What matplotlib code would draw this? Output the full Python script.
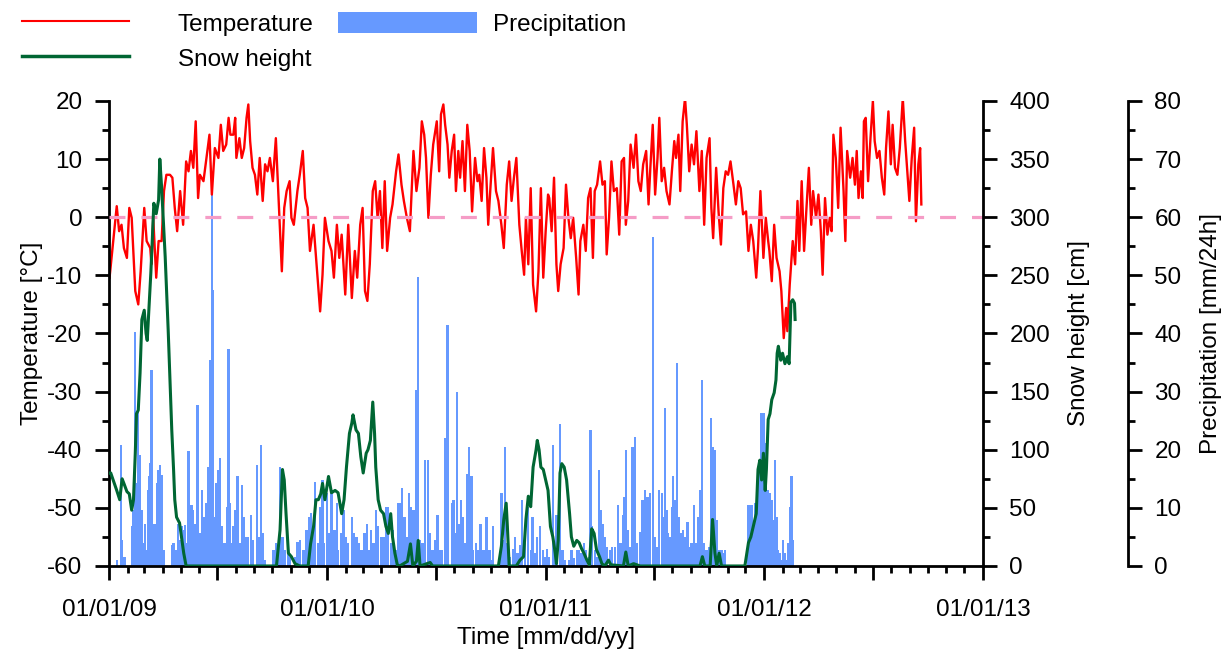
import numpy as np
import matplotlib
matplotlib.use("Agg")
import matplotlib.pyplot as plt
from matplotlib.ticker import MultipleLocator, FuncFormatter
from matplotlib.lines import Line2D
from matplotlib.patches import Patch, Rectangle
from matplotlib.legend_handler import HandlerPatch
import matplotlib.dates as mdates

plt.rcParams['font.family'] = ['Liberation Sans', 'DejaVu Sans']
plt.rcParams['font.size'] = 17.5
plt.rcParams['axes.unicode_minus'] = False

start = np.datetime64('2009-01-01')

# (days since 01/01/09, value)
temperature = [
    (1, -10.4), (10, -1.3), (13, 1.9), (17, -2.4), (21, -1.3), (25, -5.3), (30, -7.0), (34, 1.6),
    (38, -0.1), (44, -12.7), (49, -15.0), (53, -9.3), (59, 1.6), (63, -4.1), (69, -5.3), (71, -8.1),
    (74, -0.1), (79, -10.4), (83, -4.1), (88, -4.1), (92, 4.5), (96, 7.3), (102, 7.3), (106, 6.8),
    (110, 1.6), (114, -2.4), (119, 4.5), (124, -1.3), (129, 9.6), (133, 7.9), (137, 11.4), (141, 8.5),
    (145, 16.5), (149, 3.3), (152, 7.3), (158, 6.2), (163, 10.2), (168, 14.2), (172, 3.9), (177, 11.9),
    (183, 10.2), (187, 15.9), (191, 11.4), (196, 12.5), (200, 17.1), (203, 14.2), (208, 14.2), (211, 17.1),
    (213, 10.2), (218, 13.6), (222, 10.2), (226, 11.9), (230, 17.1), (233, 19.4), (236, 13.1), (240, 8.5),
    (244, 7.3), (248, 3.9), (252, 10.2), (257, 2.8), (261, 9.1), (265, 7.9), (269, 10.2), (274, 6.2),
    (279, 13.6), (283, 4.5), (289, -9.3), (293, 1.6), (297, 4.5), (302, 6.2), (305, -0.1), (309, -1.3),
    (315, 4.5), (319, 7.3), (324, 11.4), (328, 3.3), (332, 1.6), (336, -5.8), (342, -1.3), (347, -8.1),
    (353, -16.2), (357, -9.9), (361, -0.1), (367, -4.1),
    (372, -5.8), (376, -10.4), (381, -1.3), (385, -7.0), (389, -3.0), (395, -13.3), (400, -1.3), (406, -13.9),
    (411, -5.8), (415, -10.4), (420, -1.3), (424, 1.6), (428, -12.7), (432, -14.4), (436, -8.1), (441, 4.5),
    (445, 6.2), (449, -0.1), (453, 4.5), (457, -5.3), (461, 6.2), (465, -5.8), (470, -0.1), (474, 2.2),
    (480, 7.9), (484, 10.8), (489, 5.6), (493, 2.8), (498, -0.1), (503, -2.4), (509, 11.4), (514, 4.5),
    (519, 8.5), (523, 16.5), (527, 14.2), (530, 10.2), (534, -0.1), (538, 7.3), (542, 12.5), (548, 16.5),
    (552, 7.9), (555, 17.7), (559, 19.4), (562, 15.9), (566, 12.5), (569, 6.8), (573, 11.4), (577, 14.2),
    (580, 4.5), (584, 11.4), (587, 6.8), (591, 13.1), (595, 4.5), (599, 15.9), (603, 11.4), (607, 1.0),
    (612, 10.2), (616, 6.2), (619, 7.3), (623, 2.8), (627, 11.9), (631, 6.8), (634, -1.3), (638, 5.6),
    (642, 11.9), (647, 4.5), (651, 2.8), (656, -1.3), (660, -5.3), (665, 5.6), (669, 9.6), (673, 2.8),
    (677, 6.8), (681, 10.2), (686, -1.3), (690, -5.8), (694, -9.9), (697, -0.1), (701, -8.1), (705, 5.0),
    (709, -11.6), (714, -16.2), (718, -9.3), (722, 5.0), (726, -10.4), (730, -2.4), (734, 3.9),
    (736, 3.3), (740, -2.4), (744, 6.8), (748, -8.1), (751, -12.7), (755, -8.1), (760, -5.3), (764, 5.6),
    (768, -0.1), (772, -3.6), (776, -0.1), (781, -7.0), (785, -13.3), (788, -4.1), (793, -1.3), (797, -5.8),
    (801, 3.3), (805, 5.0), (809, -7.0), (812, 4.5), (816, 5.6), (821, 9.6), (825, 5.6), (829, 6.2),
    (832, -6.4), (836, -0.1), (840, 9.6), (844, 4.5), (849, 5.0), (853, -3.0), (857, 9.6), (861, 10.2),
    (864, -1.3), (868, 2.8), (872, 12.5), (877, 8.5), (881, 14.2), (885, 6.2), (889, 4.5), (893, 9.1),
    (898, 11.4), (902, 2.2), (905, 8.5), (909, 15.9), (913, 3.9), (917, 10.2), (920, 17.1), (924, 6.2),
    (928, 8.5), (932, 4.5), (937, 2.2), (941, 7.9), (945, 13.1), (948, 10.2), (952, 14.2), (955, 4.5),
    (959, 16.5), (963, 20.5), (966, 15.9), (970, 7.9), (974, 12.5), (978, 9.1), (982, 14.8), (987, 4.5),
    (991, 11.4), (995, -1.3), (999, 10.2), (1004, 13.6), (1007, 1.6), (1010, -3.6), (1015, 8.5), (1019, 1.0),
    (1023, -4.7), (1027, 5.0), (1031, 7.9), (1035, 7.3), (1039, 9.6), (1044, 5.6), (1048, 2.2), (1052, 6.2),
    (1056, 5.0), (1060, 0.5), (1065, 1.0), (1069, -5.8), (1073, -1.3), (1077, -4.1), (1082, -10.4), (1085, -5.3),
    (1089, 4.5), (1094, -7.0), (1098, -0.1), (1102, -4.1),
    (1104, -5.8), (1108, -11.0), (1112, -1.3), (1116, -7.0), (1121, -9.3), (1124, -12.7), (1128, -20.8), (1132, -15.6),
    (1134, -19.6), (1138, -11.6), (1143, -4.1), (1147, -8.1), (1151, 2.8), (1154, -5.8), (1158, 6.2), (1162, -5.8),
    (1166, 1.6), (1170, 8.5), (1174, -1.3), (1177, 4.5), (1182, -0.1), (1186, 3.9), (1190, -2.4), (1193, -9.9),
    (1197, 3.3), (1201, -3.0), (1205, -0.1), (1208, -2.4), (1211, 14.2), (1215, 10.2), (1219, 1.6), (1223, 15.4),
    (1228, 4.5), (1231, -4.1), (1234, 11.4), (1239, 6.8), (1243, 10.2), (1247, 5.6), (1250, 11.4), (1253, 3.3),
    (1257, 7.9), (1260, 3.3), (1262, 16.5), (1265, 17.1), (1269, 6.2), (1273, 13.6), (1277, 20.0), (1280, 13.1),
    (1284, 10.2), (1288, 11.4), (1292, 6.8), (1296, 3.9), (1299, 11.9), (1303, 18.2), (1307, 9.1), (1310, 15.9),
    (1314, 8.5), (1318, 7.3), (1322, 11.9), (1327, 20.5), (1331, 13.1), (1333, 10.2), (1338, 2.8), (1342, 10.2),
    (1346, 15.4), (1349, -0.7), (1353, 9.1), (1356, 11.9), (1358, 2.2),
]

snow = [
    (0, 80), (3, 80), (7, 74), (13, 65), (18, 57), (22, 75), (25, 71), (30, 64), (34, 62), (38, 48),
    (41, 57), (44, 97), (46, 131), (49, 134), (52, 166), (55, 212), (59, 220), (62, 200), (64, 194),
    (67, 223), (70, 252), (72, 275), (75, 312), (79, 303), (83, 315), (85, 350), (88, 326), (94, 266),
    (99, 203), (102, 160), (105, 117), (108, 83), (110, 57), (113, 42), (118, 37), (122, 22), (125, 11),
    (129, 0), (280, 0), (286, 31), (290, 83), (293, 74), (296, 45), (300, 11), (305, 8), (311, 2),
    (319, 0), (333, 0), (337, 19), (342, 34), (346, 57), (350, 57), (354, 62), (357, 71), (361, 57),
    (367, 77), (372, 63), (378, 65), (383, 63), (389, 45), (393, 57), (397, 85), (402, 114), (406, 123),
    (408, 130), (413, 117), (417, 114), (421, 94), (425, 80), (430, 97), (433, 100), (437, 108),
    (441, 141), (444, 114), (446, 85), (450, 57), (454, 48), (459, 45), (463, 34), (467, 28), (471, 45),
    (474, 25), (478, 11), (482, 1), (486, 0), (499, 4), (504, 19), (508, 0), (514, 4), (517, 22),
    (520, 0), (537, 3), (541, 0), (651, 0), (656, 17), (660, 40), (664, 54), (666, 34), (669, 0),
    (681, 0), (687, 5), (693, 8), (697, 40), (701, 60), (705, 51), (709, 85), (714, 100), (716, 108),
    (719, 100), (722, 85), (726, 83), (730, 74), (734, 65), (738, 34), (742, 25), (746, 11), (748, 2),
    (751, 22), (754, 80), (757, 88), (761, 85), (765, 74), (770, 45), (773, 25), (777, 17), (782, 22),
    (786, 20), (790, 15), (794, 11), (799, 5), (803, 1), (807, 32), (811, 28), (815, 14), (820, 8),
    (824, 2), (829, 0), (835, 5), (839, 1), (860, 0), (864, 12), (868, 0), (877, 2), (888, 0),
    (988, 0), (992, 8), (996, 0), (1005, 0), (1009, 40), (1013, 11), (1016, 0), (1020, 11), (1024, 0),
    (1063, 0), (1069, 20), (1073, 25), (1077, 34), (1082, 45), (1085, 83), (1088, 91), (1091, 74),
    (1094, 97), (1097, 65), (1099, 83), (1102, 126), (1105, 131), (1108, 143), (1112, 149), (1115, 160),
    (1117, 183), (1119, 189), (1123, 177), (1126, 183), (1130, 174), (1134, 180), (1137, 174),
    (1140, 227), (1143, 229), (1146, 226), (1147, 212),
]

precipitation = [
    (13, 1.0), (20, 20.8), (22, 4.5), (26, 1.6), (38, 6.8), (41, 9.6), (43, 40.3), (46, 14.2), (49, 26.8),
    (52, 19.1), (55, 9.6), (57, 3.9), (60, 7.3), (63, 2.8), (65, 13.1), (67, 15.4), (69, 17.7), (71, 33.7),
    (74, 7.3), (77, 7.3), (80, 14.2), (82, 16.5), (85, 17.4), (88, 15.7), (91, 2.8), (105, 3.6), (108, 3.9),
    (113, 2.8), (116, 7.3), (119, 4.5), (122, 6.8), (124, 6.2), (127, 7.1), (130, 3.9), (133, 19.7),
    (135, 10.2), (138, 10.5), (141, 9.6), (144, 7.3), (148, 27.7), (152, 5.6), (156, 13.1), (159, 8.5),
    (163, 10.8), (166, 17.1), (169, 35.4), (172, 64.5), (174, 47.5), (177, 8.5), (180, 14.2), (183, 16.5),
    (186, 18.5), (188, 6.8), (193, 3.9), (197, 10.2), (200, 37.4), (202, 10.8), (205, 3.9), (208, 6.8),
    (211, 9.6), (215, 15.4), (219, 3.9), (222, 13.9), (226, 8.5), (230, 5.0), (233, 5.0), (237, 8.8),
    (241, 4.5), (247, 17.4), (251, 5.0), (254, 20.8), (258, 5.6), (261, 1.0), (275, 2.8), (279, 3.9),
    (282, 2.8), (286, 17.1), (290, 5.0), (294, 2.8), (299, 2.2), (303, 1.6), (311, 1.6), (315, 4.2),
    (319, 4.5), (325, 2.8), (330, 6.2), (334, 8.5), (338, 9.1), (342, 6.8), (344, 14.5), (349, 3.9),
    (353, 10.2), (357, 14.8), (360, 3.9), (364, 12.5), (368, 5.6), (372, 13.1), (377, 6.2), (381, 10.8),
    (383, 2.8), (388, 5.6), (392, 9.6), (396, 5.0), (400, 3.9), (406, 8.5), (410, 5.6), (414, 5.0),
    (418, 3.9), (422, 2.8), (427, 5.6), (431, 7.3), (435, 2.8), (438, 6.2), (442, 3.9), (446, 9.6),
    (450, 6.8), (455, 5.0), (459, 5.0), (463, 10.2), (467, 10.2), (471, 3.9), (475, 6.2), (479, 2.8),
    (484, 10.8), (486, 10.8), (490, 13.4), (494, 8.5), (498, 5.0), (501, 12.5), (505, 10.2), (509, 9.6),
    (511, 8.5), (514, 30.3), (517, 49.8), (520, 4.5), (524, 3.9), (528, 18.2), (533, 18.2), (537, 5.6),
    (541, 2.8), (545, 4.5), (549, 8.8), (553, 2.8), (557, 2.8), (562, 22.0), (566, 41.5),
    (573, 10.8), (576, 11.4), (578, 5.6), (582, 30.0), (586, 7.3), (588, 11.4), (592, 8.5), (595, 3.9),
    (599, 15.9), (602, 20.5), (606, 15.4), (609, 2.8), (613, 3.9), (617, 2.8), (621, 7.3), (626, 2.8),
    (631, 8.5), (636, 2.8), (640, 1.0), (642, 6.8), (652, 1.0), (656, 12.5), (659, 4.5), (662, 20.5),
    (666, 3.9), (670, 1.6), (675, 3.0), (679, 5.0), (683, 2.2), (687, 3.6), (691, 11.4), (695, 3.9),
    (701, 10.2), (705, 2.8), (708, 8.5), (712, 2.2), (716, 5.0), (720, 6.8), (725, 2.8), (729, 1.6),
    (732, 3.0), (736, 1.6), (742, 20.8), (746, 3.9), (748, 8.8), (754, 24.5), (758, 2.8), (762, 1.0),
    (769, 1.0), (773, 2.8), (777, 1.3), (782, 2.8), (786, 2.8), (790, 2.2), (794, 3.9), (798, 2.8),
    (802, 1.6), (805, 23.4), (808, 6.8), (812, 2.8), (815, 1.6), (819, 16.5), (822, 9.6), (825, 7.3),
    (829, 5.0), (833, 3.3), (837, 2.8), (841, 3.3), (846, 3.3), (851, 10.5), (855, 3.9), (859, 8.8),
    (861, 11.9), (864, 20.0), (868, 6.2), (871, 3.3), (875, 20.5), (879, 22.2), (883, 3.9), (888, 5.9),
    (892, 11.4), (896, 13.1), (899, 11.9), (902, 11.9), (904, 12.5), (909, 56.6), (913, 5.0), (917, 3.3),
    (920, 13.1), (924, 12.5), (927, 8.5), (929, 27.1), (932, 9.6), (935, 5.6), (938, 5.0), (941, 10.2),
    (943, 15.4), (946, 11.4), (949, 34.9), (952, 8.5), (956, 5.6), (959, 6.2), (963, 5.0), (967, 7.6),
    (970, 3.3), (974, 3.9), (978, 10.5), (981, 3.9), (985, 8.5), (988, 13.1), (991, 32.0), (995, 3.9),
    (999, 2.8), (1003, 3.3), (1007, 25.4), (1010, 20.5), (1013, 20.0), (1016, 7.9), (1020, 2.8),
    (1024, 2.8), (1027, 2.2), (1030, 2.8), (1069, 10.5), (1071, 10.2), (1074, 10.5), (1077, 6.8),
    (1080, 10.8), (1083, 9.6), (1085, 14.2), (1088, 17.7), (1091, 26.3), (1094, 26.3), (1097, 21.1),
    (1099, 13.1), (1102, 13.1), (1105, 12.5), (1108, 11.4), (1110, 7.9), (1113, 18.2), (1116, 8.5),
    (1119, 2.8), (1122, 2.2), (1124, 1.0), (1127, 4.5), (1130, 2.2), (1134, 1.0), (1136, 3.9),
    (1138, 10.2), (1141, 15.4), (1144, 4.5),
]


def unpack(pairs):
    days = np.array([p[0] for p in pairs])
    vals = np.array([p[1] for p in pairs], dtype=float)
    return start + days.astype('timedelta64[D]'), vals


t_dates, t_vals = unpack(temperature)
s_dates, s_vals = unpack(snow)
p_dates, p_vals = unpack(precipitation)

RED = '#ff0000'
GREEN = '#006633'
BLUE = '#6699ff'
PINK = '#f59cc6'

fig = plt.figure(figsize=(12.27, 6.51), dpi=100)
ax = fig.add_axes([0.0888, 0.1306, 0.7123, 0.7143])
ax_s = ax.twinx()
ax_p = ax.twinx()

ax_p.set_zorder(1)
ax.set_zorder(2)
ax_s.set_zorder(3)
ax.patch.set_visible(False)

ax_p.bar(p_dates, p_vals, width=3.8, color=BLUE, linewidth=0)
ax.plot(t_dates, t_vals, color=RED, lw=1.7)
ax.axhline(0, color=PINK, lw=2.3, ls=(0, (5, 5)), zorder=3)
ax_s.plot(s_dates, s_vals, color=GREEN, lw=2.2)

ax.set_xlim(np.datetime64('2009-01-01'), np.datetime64('2013-01-01'))
ax.set_ylim(-60, 20)
ax_s.set_ylim(0, 400)
ax_p.set_ylim(0, 80)

# spines
for a in (ax, ax_s, ax_p):
    for sp in a.spines.values():
        sp.set_visible(False)
        sp.set_linewidth(2)
ax.spines['left'].set_visible(True)
ax.spines['bottom'].set_visible(True)
ax_s.spines['right'].set_visible(True)
ax_p.spines['right'].set_visible(True)
ax_p.spines['right'].set_position(('axes', 1.166))

# ticks
ax.xaxis.set_major_locator(mdates.MonthLocator(bymonth=[1, 7]))
ax.xaxis.set_minor_locator(mdates.MonthLocator())
ax.xaxis.set_major_formatter(FuncFormatter(
    lambda v, pos: mdates.num2date(v).strftime('%m/%d/%y') if mdates.num2date(v).month == 1 else ''))
ax.yaxis.set_major_locator(MultipleLocator(10))
ax.yaxis.set_minor_locator(MultipleLocator(5))
ax_s.yaxis.set_major_locator(MultipleLocator(50))
ax_s.yaxis.set_minor_locator(MultipleLocator(25))
ax_p.yaxis.set_major_locator(MultipleLocator(10))
ax_p.yaxis.set_minor_locator(MultipleLocator(5))

ax.tick_params(axis='x', which='major', direction='out', length=10, width=2, pad=14)
ax.tick_params(axis='x', which='minor', direction='out', length=5, width=2)
ax.tick_params(axis='y', which='major', direction='out', length=10, width=2, pad=9)
ax.tick_params(axis='y', which='minor', direction='out', length=5, width=2)
for a in (ax_s, ax_p):
    a.tick_params(axis='y', which='major', direction='out', length=10, width=2, pad=9)
    a.tick_params(axis='y', which='minor', direction='out', length=5, width=2)

ax.set_xlabel('Time [mm/dd/yy]', labelpad=4)
ax.set_ylabel('Temperature [°C]', labelpad=3)
ax_s.set_ylabel('Snow height [cm]', labelpad=13)
ax_p.set_ylabel('Precipitation [mm/24h]', labelpad=13)


def wide_patch(legend, orig_handle, xdescent, ydescent, width, height, fontsize):
    return Rectangle((-xdescent, -ydescent), width * 1.3, height)


handles = [Line2D([], [], color=RED, lw=1.5),
           Line2D([], [], color=GREEN, lw=2.5),
           Patch(facecolor=BLUE, edgecolor='none')]
fig.legend(handles, ['Temperature', 'Snow height', 'Precipitation'], ncol=2,
           loc='upper left', bbox_to_anchor=(0.018, 0.982), frameon=False,
           handlelength=4.4, handleheight=1.0, handletextpad=2.0,
           columnspacing=1.0, labelspacing=0.45, borderpad=0, borderaxespad=0,
           handler_map={Patch: HandlerPatch(patch_func=wide_patch)})

fig.savefig('out.png', dpi=100)
